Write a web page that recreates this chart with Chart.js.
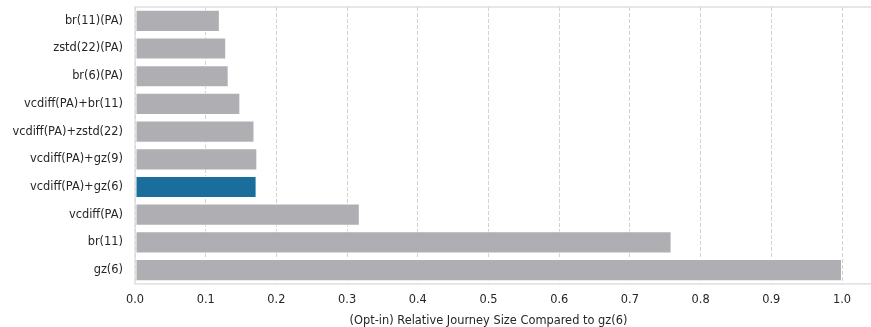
<!DOCTYPE html>
<html>
<head>
<meta charset="utf-8">
<script src="https://cdn.jsdelivr.net/npm/chart.js@4.4.1/dist/chart.umd.min.js"></script>
<style>
  html, body { margin: 0; padding: 0; background: #fff; }
  #wrap { width: 871px; height: 327px; }
</style>
</head>
<body>
<div id="wrap"><canvas id="journeyChart"></canvas></div>
<script>
const methods = ['br(11)(PA)', 'zstd(22)(PA)', 'br(6)(PA)', 'vcdiff(PA)+br(11)', 'vcdiff(PA)+zstd(22)',
    'vcdiff(PA)+gz(9)', 'vcdiff(PA)+gz(6)', 'vcdiff(PA)', 'br(11)', 'gz(6)'];
const relSize = [0.120, 0.129, 0.1325, 0.149, 0.169, 0.173, 0.172, 0.318, 0.759, 1.0];
const highlighted = 'vcdiff(PA)+gz(6)';
const xTicks = [0, 0.1, 0.2, 0.3, 0.4, 0.5, 0.6, 0.7, 0.8, 0.9, 1.0];

const grey = '#afaeb3';
const blue = '#1a6e9c';
const textColor = '#262626';
const fontFamily = '"DejaVu Sans", sans-serif';

const barColors = methods.map(m => m === highlighted ? blue : grey);

// light frame around the axes, open to the right like the cropped figure
const framePlugin = {
    id: 'frame',
    afterDraw(chart) {
        const a = chart.chartArea;
        const ctx = chart.ctx;
        ctx.save();
        ctx.strokeStyle = '#d9d9d9';
        ctx.lineWidth = 1.25;
        ctx.strokeRect(a.left, a.top, chart.width + 2 - a.left, a.bottom - a.top);
        ctx.restore();
    }
};

new Chart(document.getElementById('journeyChart'), {
    type: 'bar',
    data: {
        labels: methods,
        datasets: [{
            data: relSize,
            backgroundColor: barColors,
            borderColor: '#ffffff',
            borderWidth: 1,
            borderSkipped: false,
            barPercentage: 0.8,
            categoryPercentage: 1.0
        }]
    },
    options: {
        indexAxis: 'y',
        responsive: true,
        maintainAspectRatio: false,
        animation: false,
        layout: {
            padding: { top: 7, right: 29, bottom: 0, left: 0 }
        },
        plugins: {
            legend: { display: false },
            tooltip: { enabled: false }
        },
        scales: {
            x: {
                type: 'linear',
                min: 0,
                max: 1.0,
                afterBuildTicks: axis => {
                    axis.ticks = xTicks.map(v => ({ value: v }));
                },
                grid: {
                    color: '#d2d2d2',
                    lineWidth: 1,
                    drawTicks: false
                },
                border: { display: false, dash: [4, 2] },
                ticks: {
                    color: textColor,
                    padding: 9,
                    font: { family: fontFamily, size: 11.4 },
                    callback: v => Number(v).toFixed(1)
                },
                title: {
                    display: true,
                    text: '(Opt-in) Relative Journey Size Compared to gz(6)',
                    color: textColor,
                    font: { family: fontFamily, size: 11.4, lineHeight: 1.0 },
                    padding: { top: 0, bottom: 0 }
                }
            },
            y: {
                grid: { display: false, drawTicks: false },
                border: { display: false },
                ticks: {
                    color: textColor,
                    padding: 12,
                    font: { family: fontFamily, size: 11.4 }
                },
                afterFit: scale => {
                    scale.width = 135;
                    scale.paddingTop = 0;
                    scale.paddingBottom = 0;
                }
            }
        }
    },
    plugins: [framePlugin]
});
</script>
</body>
</html>
